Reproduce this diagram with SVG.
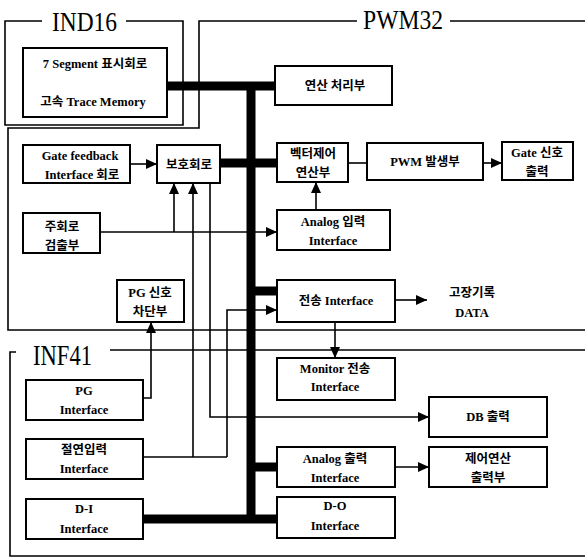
<svg xmlns="http://www.w3.org/2000/svg" width="585" height="558" viewBox="0 0 585 558">
<style>
.frame{fill:none;stroke:#000;stroke-width:1.6}
.box rect{fill:#fff;stroke:#000;stroke-width:2}
.t{font-family:"Liberation Serif","Noto Sans CJK KR",serif;font-size:12.5px;font-weight:bold;text-anchor:middle;fill:#000}
.title{font-family:"Liberation Serif",serif;font-size:28px;fill:#000}
.bus{fill:none;stroke:#000;stroke-width:9}
.ln{fill:none;stroke:#000;stroke-width:1.6}
.ar{marker-end:url(#ah)}
</style>
<defs>
<marker id="ah" markerUnits="userSpaceOnUse" markerWidth="12" markerHeight="10" refX="11" refY="5" orient="auto">
<path d="M0,0 L11,5 L0,10 Z" fill="#000"/>
</marker>
</defs>
<rect width="585" height="558" fill="#fff"/>
<g id="frames">
<path class="frame" d="M42,21 H5 V125 H183 V21 H126"/>
<text class="title" x="52" y="31" textLength="65" lengthAdjust="spacingAndGlyphs">IND16</text>
<path class="frame" d="M357,21 H199 V128 H8 V330 H585"/>
<path class="frame" d="M450,21 H585"/>
<text class="title" x="363" y="29" textLength="80" lengthAdjust="spacingAndGlyphs">PWM32</text>
<path class="frame" d="M16,352 H10 V556 H585"/>
<path class="frame" d="M110,350 H585"/>
<text class="title" x="33" y="365" style="font-size:30px" textLength="59" lengthAdjust="spacingAndGlyphs">INF41</text>
</g>
<g id="connectors">
<path class="bus" d="M167,86 H275"/>
<path class="bus" d="M251,86 V519"/>
<path class="bus" d="M220,163 H277"/>
<path class="bus" d="M251,291 H277"/>
<path class="bus" d="M251,467 H278"/>
<path class="bus" d="M143,519 H277"/>
<path class="ln ar" d="M130,164 H157"/>
<path class="ln" d="M348,163 H367"/>
<path class="ln ar" d="M483,163 H502"/>
<path class="ln ar" d="M316,210 V182"/>
<path class="ln ar" d="M100,232 H277"/>
<path class="ln ar" d="M174,232 V183"/>
<path class="ln" d="M143,457 H227"/>
<path class="ln ar" d="M193,457 V183"/>
<path class="ln ar" d="M227,457 V310 H277"/>
<path class="ln ar" d="M210,183 V417 H429"/>
<path class="ln ar" d="M143,398 H151 V322"/>
<path class="ln ar" d="M395,300 H427"/>
<path class="ln ar" d="M335,322 V358"/>
<path class="ln ar" d="M395,467 H429"/>
</g>
<g id="seg" class="box"><rect x="23" y="48" width="144" height="69"/><text class="t" x="95" y="68">7 Segment 표시회로</text><text class="t" x="93" y="106">고속 Trace Memory</text></g>
<g id="calc" class="box"><rect x="275" y="66" width="117" height="39"/><text class="t" x="335" y="90">연산 처리부</text></g>
<g id="gatefb" class="box"><rect x="23" y="145" width="107" height="38"/><text class="t" x="80" y="160">Gate feedback</text><text class="t" x="82" y="179">Interface 회로</text></g>
<g id="prot" class="box"><rect x="157" y="145" width="63" height="38"/><text class="t" x="189" y="169">보호회로</text></g>
<g id="vec" class="box"><rect x="277" y="143" width="71" height="39"/><text class="t" x="313" y="158">벡터제어</text><text class="t" x="313" y="177">연산부</text></g>
<g id="pwm" class="box"><rect x="367" y="143" width="116" height="37"/><text class="t" x="425" y="166">PWM 발생부</text></g>
<g id="gate" class="box"><rect x="502" y="142" width="71" height="38"/><text class="t" x="537" y="157">Gate 신호</text><text class="t" x="537" y="176">출력</text></g>
<g id="main" class="box"><rect x="23" y="213" width="77" height="40"/><text class="t" x="62" y="231">주회로</text><text class="t" x="62" y="250">검출부</text></g>
<g id="ain" class="box"><rect x="277" y="210" width="113" height="40"/><text class="t" x="333" y="226">Analog 입력</text><text class="t" x="333" y="245">Interface</text></g>
<g id="pgc" class="box"><rect x="117" y="280" width="67" height="42"/><text class="t" x="150" y="297">PG 신호</text><text class="t" x="150" y="316">차단부</text></g>
<g id="tx" class="box"><rect x="277" y="280" width="118" height="42"/><text class="t" x="336" y="305">전송 Interface</text></g>
<g id="mon" class="box"><rect x="277" y="358" width="118" height="42"/><text class="t" x="335" y="373">Monitor 전송</text><text class="t" x="335" y="391">Interface</text></g>
<g id="db" class="box"><rect x="429" y="397" width="118" height="40"/><text class="t" x="488" y="421">DB 출력</text></g>
<g id="aout" class="box"><rect x="277" y="447" width="118" height="40"/><text class="t" x="335" y="463">Analog 출력</text><text class="t" x="335" y="482">Interface</text></g>
<g id="ctl" class="box"><rect x="429" y="447" width="118" height="40"/><text class="t" x="488" y="463">제어연산</text><text class="t" x="488" y="482">출력부</text></g>
<g id="do" class="box"><rect x="277" y="497" width="118" height="41"/><text class="t" x="335" y="510">D-O</text><text class="t" x="335" y="530">Interface</text></g>
<g id="pgi" class="box"><rect x="26" y="380" width="117" height="40"/><text class="t" x="84" y="395">PG</text><text class="t" x="84" y="414">Interface</text></g>
<g id="iso" class="box"><rect x="26" y="439" width="117" height="40"/><text class="t" x="84" y="454">절연입력</text><text class="t" x="84" y="473">Interface</text></g>
<g id="di" class="box"><rect x="26" y="499" width="117" height="40"/><text class="t" x="84" y="513">D-I</text><text class="t" x="84" y="533">Interface</text></g>
<g id="fault"><text class="t" x="472" y="297">고장기록</text><text class="t" x="472" y="317">DATA</text></g>
</svg>
